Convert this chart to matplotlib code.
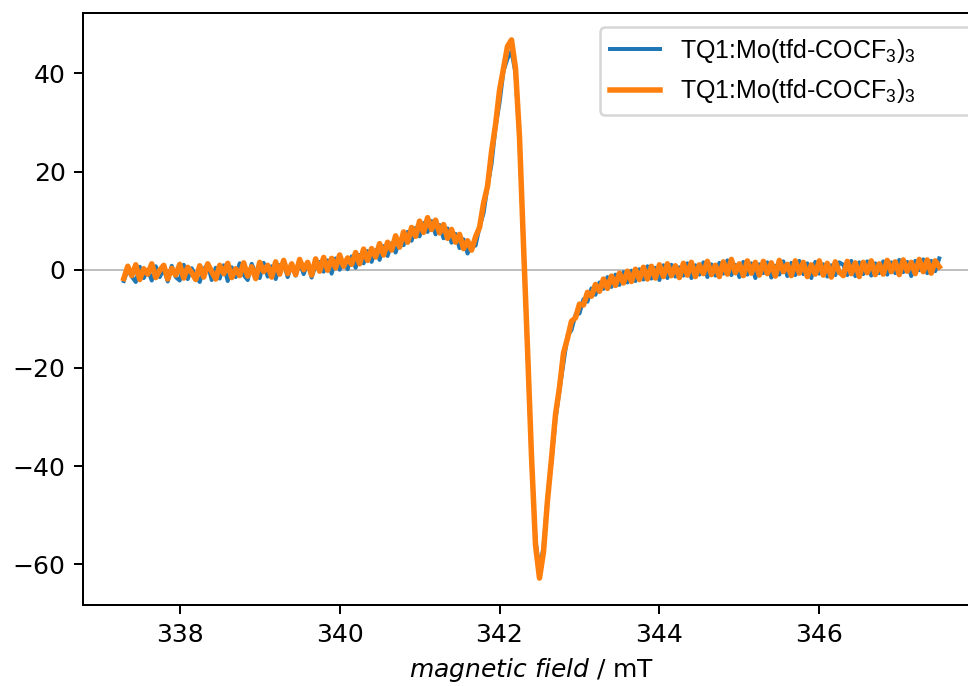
import numpy as np
import matplotlib
matplotlib.use("Agg")
import matplotlib.pyplot as plt

plt.rcParams['mathtext.fontset'] = 'custom'
plt.rcParams['mathtext.rm'] = 'Liberation Sans'
plt.rcParams['mathtext.it'] = 'DejaVu Sans:italic'

# Campo magnetico (mT), paso de 0.05 mT
field = np.linspace(337.30, 347.50, 205)

# Espectro EPR, primera medida (azul)
signal_1 = [
    -2.3, 0.1, -1.4, -2.5, 0.6, -1.7, 0.0, -2.2, 0.7, -1.5,
    0.2, -2.4, 0.8, -1.5, -2.2, 1.0, -1.9, 0.3, -1.4, -2.5,
    0.1, 1.1, -2.1, 0.4, -1.8, 0.9, -2.3, 0.5, -1.5, 1.3,
    -1.1, -2.1, 1.2, -0.7, -1.7, 1.4, -1.4, 0.7, -1.9, 0.9,
    1.3, -1.5, 1.0, -1.2, 1.5, -0.9, 1.4, -1.6, 0.9, 1.6,
    -0.4, 1.9, -0.8, 2.3, 0.0, 1.7, 0.1, 2.7, 0.4, 3.0,
    1.3, 3.8, 1.6, 4.0, 2.0, 4.8, 2.8, 5.4, 3.5, 6.1,
    5.0, 7.7, 5.9, 8.5, 6.8, 9.5, 7.7, 9.9, 7.2, 9.1,
    6.4, 8.4, 5.5, 7.3, 4.4, 6.2, 3.3, 5.3, 4.9, 8.7,
    11.5, 17.0, 21.5, 29.0, 34.0, 40.5, 43.0, 44.5, 40.0, 26.5,
    4.5, -16.5, -38.5, -55.0, -61.2, -56.5, -46.5, -39.0, -30.5, -24.5,
    -19.0, -13.5, -12.3, -9.2, -8.9, -6.0, -6.5, -3.8, -5.1, -2.6,
    -3.9, -1.5, -3.5, -1.0, -3.1, -0.5, -2.6, -0.2, -2.3, 0.1,
    -2.0, 0.7, -1.8, 0.4, -2.1, 0.9, -1.7, 1.0, -1.4, 0.5,
    -1.2, 1.3, -1.7, 0.9, -1.0, 1.5, -1.5, 1.1, -1.2, 1.4,
    -0.8, 1.9, -1.1, 1.0, -1.5, 1.6, -1.0, 1.3, -1.7, 1.1,
    -0.7, 1.5, -1.6, 0.8, -1.0, 1.7, -1.3, 1.4, -1.1, 1.8,
    -0.9, 1.3, -1.7, 1.6, -0.8, 1.1, -1.4, 0.9, -1.1, 1.5,
    1.0, -1.1, 1.8, -1.3, 1.5, -0.9, 1.7, -1.2, 1.3, -0.7,
    1.7, -1.0, 1.5, -0.7, 2.0, -0.5, 1.6, -1.3, 1.8, -0.1,
    2.1, -0.7, 1.8, -0.3, 2.3,
]

# Espectro EPR, segunda medida (naranja)
signal_2 = [
    -1.8, 0.7, -1.2, 1.0, -2.0, 0.2, -0.9, 1.2, -1.6, -0.1,
    0.9, -1.9, 0.3, -1.1, 1.1, -1.7, 0.5, -0.6, -2.0, 0.8,
    -1.5, 1.2, -0.4, -1.9, 0.9, -0.8, 1.3, -1.6, 0.2, -1.2,
    1.4, -1.3, 0.6, -1.8, 1.5, -0.4, 0.9, -1.5, 1.6, -0.9,
    1.9, -0.8, 1.2, -1.0, 2.1, 0.0, 1.5, -1.1, 2.2, -0.3,
    2.5, -0.1, 2.3, 0.4, 3.0, 0.7, 2.4, 1.1, 3.5, 1.2,
    4.2, 1.9, 4.3, 2.6, 5.3, 3.0, 5.6, 4.0, 6.9, 4.6,
    7.7, 5.6, 8.6, 6.8, 9.9, 7.6, 10.6, 8.2, 10.1, 7.5,
    9.2, 6.4, 8.2, 5.6, 7.2, 4.3, 5.9, 4.0, 6.7, 8.6,
    13.5, 17.0, 24.0, 29.5, 36.5, 41.0, 45.5, 46.8, 41.0, 27.0,
    5.0, -16.0, -38.0, -56.0, -62.8, -57.5, -47.0, -38.5, -29.5, -24.0,
    -17.0, -14.0, -10.5, -9.8, -7.0, -7.2, -4.6, -5.4, -3.0, -4.4,
    -1.9, -3.8, -1.3, -3.2, -0.7, -2.7, -0.3, -2.4, 0.1, -2.0,
    0.5, -1.9, 0.7, -1.7, 1.0, -1.4, 1.2, -1.2, 0.8, -1.6,
    1.3, -1.1, 1.5, -1.4, 1.0, -0.8, 1.7, -1.0, 0.9, -1.4,
    1.6, -0.9, 2.1, -0.6, 1.2, -1.2, 1.8, -0.7, 1.5, -1.1,
    1.7, -0.8, 1.4, -1.3, 1.9, -0.4, 1.1, -1.2, 1.8, -0.7,
    1.5, -1.4, 1.0, -0.9, 1.8, -1.1, 1.3, -1.5, 1.6, -0.5,
    -1.2, 1.7, -0.8, 1.4, -1.4, 1.5, -0.6, 1.8, -1.0, 1.2,
    -0.9, 1.9, -0.4, 1.6, -1.0, 2.0, -0.3, 1.5, -0.8, 2.1,
    -0.4, 2.0, -0.7, 1.8, 0.6,
]

label = 'TQ1:Mo(tfd-COCF$_3$)$_3$'

fig = plt.figure(figsize=(968 / 180, 686 / 180), dpi=180)
ax = fig.add_axes([83 / 968, 81 / 686, 897 / 968, 592 / 686])

ax.axhline(0, color='0.75', lw=0.8, zorder=0)
ax.plot(field, signal_1, color='#1f77b4', lw=1.6, label=label)
ax.plot(field, signal_2, color='#ff7f0e', lw=2.2, label=label)

ax.set_xticks([338, 340, 342, 344, 346])
ax.set_xlabel(r'$\mathit{magnetic\ field}$ / mT')

# Leyenda ancha, sale por el borde derecho
ax.legend(loc='upper left', bbox_to_anchor=(0.5764, 0.0, 0.45, 0.9764),
          mode='expand', borderaxespad=0,
          prop={'family': 'Liberation Sans', 'size': 10})

fig.savefig('out.png', dpi=180)
